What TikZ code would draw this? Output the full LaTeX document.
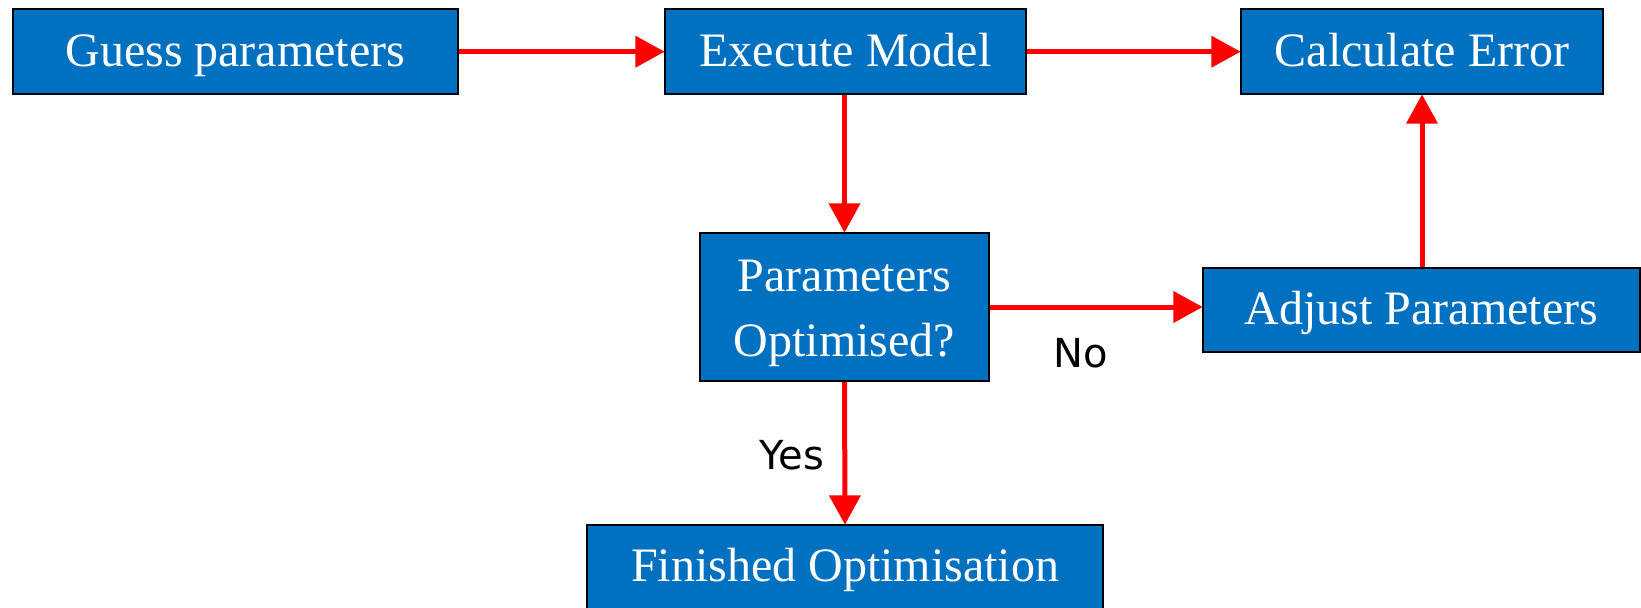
\documentclass[tikz,border=0pt]{standalone}
\usepackage{fontspec}
\setmainfont{Liberation Serif}
\newfontfamily\labelfont{DejaVu Sans}
\usetikzlibrary{arrows.meta}
\definecolor{boxblue}{HTML}{0070C0}
\definecolor{arrred}{HTML}{FF0000}
\tikzset{
  flowbox/.style={draw=black, line width=1.5pt, fill=boxblue, text=white, inner sep=0pt,
    font=\fontsize{36}{49}\selectfont, align=center},
  onebox/.style={flowbox, text height=30pt, text depth=7.8pt},
  flowarrow/.style={draw=arrred, line width=3.75pt, -{Triangle[length=22pt,width=23pt]}, shorten >=-0.5pt},
  edgelabel/.style={font=\labelfont\fontsize{30}{34}\selectfont, text=black, inner sep=0pt}
}
\begin{document}
\begin{tikzpicture}[x=0.75pt,y=-0.75pt]
\useasboundingbox (0,0) rectangle (1641,607);
\node[onebox, minimum width=334pt, minimum height=63.5pt] (guess) at (235.3,51.7) {Guess parameters};
\node[onebox, minimum width=270.75pt, minimum height=63.5pt] (exec) at (845.5,51.7) {Execute Model};
\node[onebox, minimum width=271.5pt, minimum height=63.5pt] (calc) at (1422,51.7) {Calculate Error};
\node[flowbox, minimum width=216.75pt, minimum height=111pt] (opt) at (844.5,307) {\rule{0pt}{33pt}Parameters\\Optimised?};
\node[onebox, minimum width=327.75pt, minimum height=63pt] (adjust) at (1421.5,310) {Adjust Parameters};
\node[onebox, minimum width=387pt, minimum height=63pt] (fin) at (845,567) {Finished Optimisation};
\draw[flowarrow] (guess.east) -- (exec.west);
\draw[flowarrow] (exec.east) -- (calc.west);
\draw[flowarrow] (exec.south -| opt.north) -- (opt.north);
\draw[flowarrow] (opt.east) -- (opt.east -| adjust.west);
\draw[flowarrow] (adjust.north -| calc.south) -- (calc.south);
\draw[flowarrow] (opt.south) -- (fin.north);
\node[edgelabel] (nolab) at (1081,353) {No};
\node[edgelabel] (yeslab) at (792,455) {Yes};
\end{tikzpicture}
\end{document}
